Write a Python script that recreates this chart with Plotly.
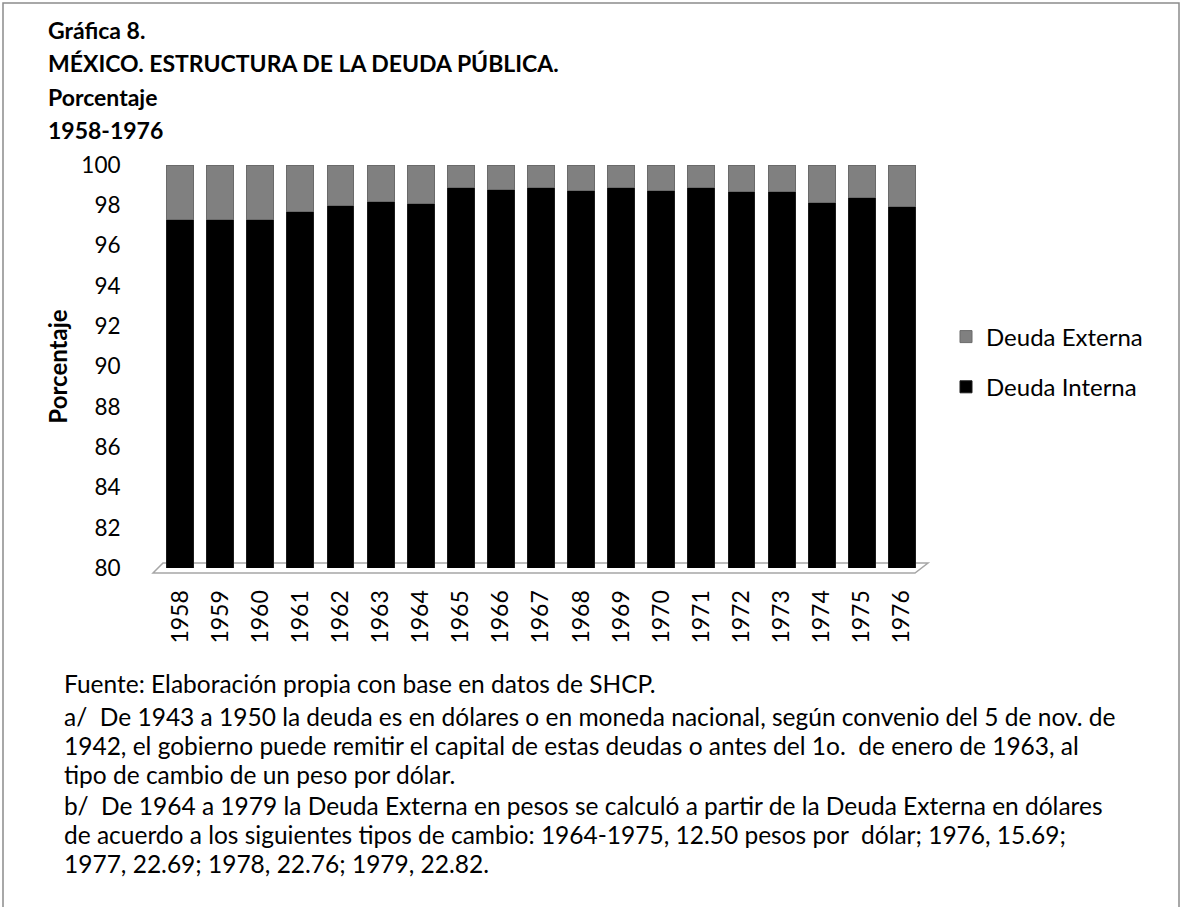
import plotly.graph_objects as go

years = [str(y) for y in range(1958, 1977)]
deuda_interna = [97.3, 97.3, 97.3, 97.7, 98.0, 98.2, 98.1, 98.9, 98.8, 98.9,
                 98.75, 98.9, 98.75, 98.9, 98.7, 98.7, 98.15, 98.4, 97.95]
deuda_externa = [round(100 - v, 2) for v in deuda_interna]
y_ticks = list(range(80, 101, 2))

title_lines = ["Gráfica 8.",
               "MÉXICO. ESTRUCTURA DE LA DEUDA PÚBLICA.",
               "Porcentaje",
               "1958-1976"]
notes = ["Fuente: Elaboración propia con base en datos de SHCP.",
         "a/  De 1943 a 1950 la deuda es en dólares o en moneda nacional, según convenio del 5 de nov. de",
         "1942, el gobierno puede remitir el capital de estas deudas o antes del 1o.  de enero de 1963, al",
         "tipo de cambio de un peso por dólar.",
         "b/  De 1964 a 1979 la Deuda Externa en pesos se calculó a partir de la Deuda Externa en dólares",
         "de acuerdo a los siguientes tipos de cambio: 1964-1975, 12.50 pesos por  dólar; 1976, 15.69;",
         "1977, 22.69; 1978, 22.76; 1979, 22.82."]

W, H = 1181, 907
L, R, T, B = 160, 259, 165, 339
PW, PH = W - L - R, H - T - B

def px(x):
    return (x - L) / PW

def py(y):
    return (H - B - y) / PH

FONT = "Lato"

fig = go.Figure()
fig.add_trace(go.Bar(x=years, y=deuda_interna, name="Deuda Interna",
                     legendgroup="i", legendrank=2,
                     marker=dict(color="#000000", line=dict(color="#1a1a1a", width=1))))
fig.add_trace(go.Bar(x=years, y=deuda_externa, name="Deuda Externa",
                     legendgroup="e", legendrank=1,
                     marker=dict(color="#808080", line=dict(color="#6a6a6a", width=1))))

annotations = []
title_y = [30, 63, 97, 130]
for t, yy in zip(title_lines, title_y):
    annotations.append(dict(text="<b>" + t + "</b>", x=px(46), y=py(yy), xref="paper", yref="paper",
                            xanchor="left", yanchor="middle", showarrow=False,
                            font=dict(family=FONT, size=23, color="#000")))
note_y = [683, 716, 745, 775, 805, 834, 863]
for t, yy in zip(notes, note_y):
    annotations.append(dict(text=t, x=px(62), y=py(yy), xref="paper", yref="paper",
                            xanchor="left", yanchor="middle", showarrow=False,
                            font=dict(family=FONT, size=24.5, color="#000")))

shapes = [
    # chart border
    dict(type="rect", xref="paper", yref="paper", x0=px(3), x1=px(1179), y0=py(3), y1=py(912),
         line=dict(color="#8c8c8c", width=1.5), fillcolor="rgba(0,0,0,0)", layer="below"),
    # 3D floor
    dict(type="path", xref="paper", yref="paper",
         path=f"M {px(153)},{py(573)} L {px(915)},{py(573)} L {px(928)},{py(563)} L {px(163)},{py(563)} Z",
         line=dict(color="#a6a6a6", width=1.5), fillcolor="rgba(0,0,0,0)", layer="below"),
]

fig.update_layout(
    width=W, height=H,
    margin=dict(l=L, r=R, t=T, b=B, autoexpand=False),
    paper_bgcolor="white", plot_bgcolor="white",
    barmode="stack", bargap=0.33,
    font=dict(family=FONT, color="#000"),
    showlegend=True,
    legend=dict(x=px(946), y=py(362), xanchor="left", yanchor="middle",
                traceorder="grouped", tracegroupgap=16,
                font=dict(family=FONT, size=24, color="#000"), bgcolor="rgba(0,0,0,0)"),
    xaxis=dict(type="category", range=[-0.5, 18.5], tickangle=-90, showgrid=False,
               showline=False, zeroline=False, ticks="outside", ticklen=12,
               tickcolor="rgba(0,0,0,0)", tickfont=dict(family=FONT, size=23, color="#000")),
    yaxis=dict(range=[80, 100], tickvals=y_ticks, showgrid=False, showline=False,
               zeroline=False, ticks="outside", ticklen=34, tickcolor="rgba(0,0,0,0)",
               tickfont=dict(family=FONT, size=22.5, color="#000"),
               title=dict(text="<b>Porcentaje</b>", standoff=6,
                          font=dict(family=FONT, size=24, color="#000"))),
    annotations=annotations,
    shapes=shapes,
)

fig.write_html("out.html", config={"displayModeBar": False},
               post_script="document.body.style.margin='0';document.body.style.overflow='hidden';")
